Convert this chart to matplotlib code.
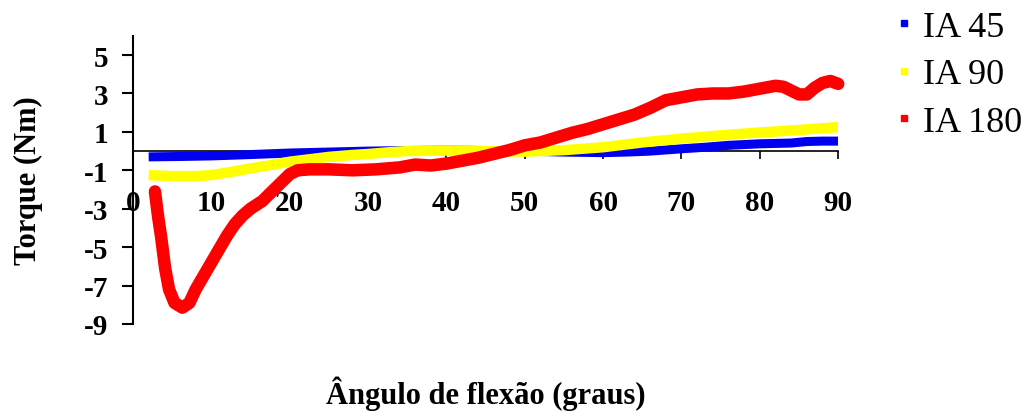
import matplotlib
matplotlib.use("Agg")
import matplotlib.pyplot as plt
from matplotlib.lines import Line2D

plt.rcParams["axes.unicode_minus"] = False

# Flexion angle (degrees) and torque (Nm) for each series
angle_ia45 = [2, 6, 10, 15, 20, 25, 30, 35, 40, 45, 50, 55, 60, 63, 66, 70, 73, 76, 80, 84, 86, 88, 90]
torque_ia45 = [-0.3, -0.28, -0.25, -0.18, -0.1, -0.05, 0.0, 0.03, 0.05, 0.03, 0.0, -0.05, -0.08, -0.05, 0.0, 0.12, 0.2, 0.3, 0.38, 0.42, 0.5, 0.52, 0.52]

angle_ia90 = [2, 5, 8, 10, 13, 15, 18, 20, 23, 25, 28, 30, 33, 35, 40, 45, 50, 55, 60, 65, 70, 75, 80, 85, 90]
torque_ia90 = [-1.25, -1.3, -1.3, -1.25, -1.05, -0.9, -0.7, -0.55, -0.4, -0.3, -0.2, -0.15, -0.05, 0.0, 0.03, 0.0, -0.03, 0.05, 0.2, 0.45, 0.65, 0.82, 0.97, 1.1, 1.25]

angle_ia180 = [2.8, 3.2, 3.6, 4.1, 4.6, 5.3, 6.3, 7.2, 8.0, 9.0, 10.0, 11.0, 12.0, 13.0, 14.0, 15.0,
               16.5, 18.0, 19.0, 20.0, 21.0, 22.5, 25, 28, 31, 34, 36, 38, 40, 42, 44, 46, 48, 50,
               52, 54, 56, 58, 60, 62, 64, 66, 68, 70, 72, 74, 76, 78, 80, 82, 83, 84, 85, 86, 87,
               88, 89, 90]
torque_ia180 = [-2.1, -3.4, -4.5, -6.1, -7.2, -7.9, -8.15, -7.9, -7.2, -6.5, -5.8, -5.1, -4.4, -3.8, -3.35, -3.0,
                -2.6, -2.0, -1.6, -1.2, -1.0, -0.95, -0.95, -1.0, -0.95, -0.85, -0.7, -0.75, -0.65, -0.5, -0.35, -0.15, 0.05, 0.3,
                0.45, 0.7, 0.95, 1.15, 1.4, 1.65, 1.9, 2.25, 2.65, 2.8, 2.95, 3.0, 3.0, 3.1, 3.25, 3.4, 3.35, 3.15, 2.95, 2.95, 3.3,
                3.55, 3.65, 3.5]

series_labels = ["IA 45", "IA 90", "IA 180"]
series_colors = ["#0000ee", "#ffff00", "#ff0000"]

x_ticks = [0, 10, 20, 30, 40, 50, 60, 70, 80, 90]
y_ticks = [-9, -7, -5, -3, -1, 1, 3, 5]

serif = "Liberation Serif"

fig = plt.figure(figsize=(10.31, 4.14), dpi=100)
ax = fig.add_axes([0.129, 0.215, 0.684, 0.696])

ax.plot(angle_ia45, torque_ia45, color=series_colors[0], lw=6.5, solid_capstyle="butt", zorder=3)
ax.plot(angle_ia90, torque_ia90, color=series_colors[1], lw=7.5, solid_capstyle="butt", zorder=3)
ax.plot(angle_ia180, torque_ia180, color=series_colors[2], lw=9, solid_capstyle="round",
        solid_joinstyle="round", clip_on=False, zorder=3)

ax.set_xlim(0, 90)
ax.set_ylim(-9, 6)
ax.set_xticks(x_ticks)
ax.set_yticks(y_ticks)

for s in ("top", "right"):
    ax.spines[s].set_visible(False)
ax.spines["bottom"].set_position(("data", 0))
ax.spines["bottom"].set_linewidth(1.2)
ax.spines["left"].set_linewidth(1.5)

ax.tick_params(axis="x", direction="out", length=6, width=1.2, pad=21)
ax.tick_params(axis="y", direction="out", length=8, width=1.5, pad=10)
for lbl in ax.get_xticklabels() + ax.get_yticklabels():
    lbl.set_fontfamily(serif)
    lbl.set_fontweight("bold")
    lbl.set_fontsize(21)

ax.set_ylabel("Torque (Nm)", fontfamily=serif, fontweight="bold", fontsize=22)
ax.yaxis.set_label_coords(-0.128, 0.5)
ax.set_xlabel("Ângulo de flexão (graus)", fontfamily=serif, fontweight="bold", fontsize=22)
ax.xaxis.set_label_coords(0.5, -0.18)

handles = [Line2D([], [], color=c, marker="s", markersize=5, linestyle="none") for c in series_colors]
leg = fig.legend(handles, series_labels, loc="upper left", bbox_to_anchor=(0.862, 0.99),
                 frameon=False, prop={"family": serif, "size": 26},
                 handlelength=0.45, handletextpad=0.3, labelspacing=0.4, borderaxespad=0,
                 borderpad=0.2)

fig.savefig("out.png", dpi=100, facecolor="white")
